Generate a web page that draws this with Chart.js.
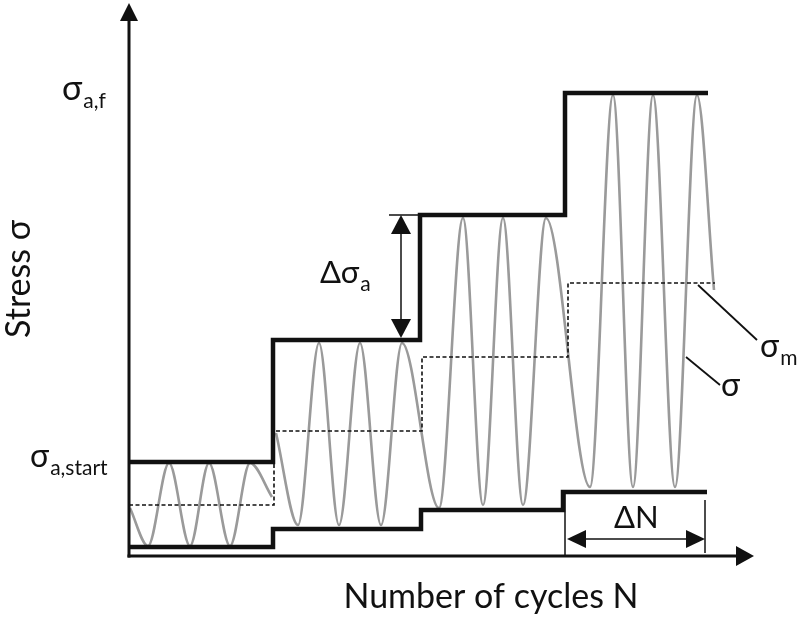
<!DOCTYPE html>
<html>
<head>
<meta charset="utf-8">
<script src="https://cdn.jsdelivr.net/npm/chart.js@4.4.0/dist/chart.umd.min.js"></script>
<style>
  html, body { margin: 0; padding: 0; background: #fff; }
  #wrap { width: 800px; height: 617px; position: relative; }
</style>
</head>
<body>
<div id="wrap"><canvas id="c"></canvas></div>
<script>
// block boundaries (cycles N) and levels (stress), schematic units
var upperX = [0, 144, 291, 436, 579];
var upperY = [94, 216, 341, 463, 463];
var lowerX = [0, 144, 292, 434, 578];
var lowerY = [9, 27, 46, 64, 64];
var meanX = [0, 145, 293, 439, 586];
var meanY = [51, 125, 199, 273, 273];

// stress signal, read at its turning points
var sig1X = [1, 19, 40, 61, 80, 101, 121, 143];
var sig1Y = [48, 10, 93, 10, 93, 10, 93, 59];
var sig2X = [147, 169, 190, 210, 231, 252, 273, 310, 334, 354, 374, 394, 417, 461, 484, 504, 524, 546, 568, 585];
var sig2Y = [123, 31, 213, 31, 213, 31, 213, 48, 338, 51, 338, 51, 338, 69, 461, 69, 461, 69, 461, 266];

var FONT = 'Lato, "Open Sans", sans-serif';

function pts(xs, ys) {
  return xs.map(function (x, i) { return { x: x, y: ys[i] }; });
}

function arrowHead(ctx, x, y, dx, dy, len, half) {
  // tip at (x,y), pointing along (dx,dy)
  var px = -dy, py = dx;
  ctx.beginPath();
  ctx.moveTo(x, y);
  ctx.lineTo(x - dx * len + px * half, y - dy * len + py * half);
  ctx.lineTo(x - dx * len - px * half, y - dy * len - py * half);
  ctx.closePath();
  ctx.fill();
}

function line(ctx, x1, y1, x2, y2, w) {
  ctx.lineWidth = w;
  ctx.beginPath();
  ctx.moveTo(x1, y1);
  ctx.lineTo(x2, y2);
  ctx.stroke();
}

function subText(ctx, main, sub, x, y, size, subSize) {
  ctx.font = size + 'px ' + FONT;
  ctx.textAlign = 'left';
  ctx.textBaseline = 'alphabetic';
  ctx.fillText(main, x, y);
  var w = ctx.measureText(main).width;
  if (sub) {
    ctx.font = subSize + 'px ' + FONT;
    ctx.fillText(sub, x + w + 1, y + subSize * 0.4);
  }
}

var sketch = {
  id: 'sketch',
  afterDraw: function (chart) {
    var ctx = chart.ctx;
    var sx = chart.scales.x, sy = chart.scales.y;
    var X = function (v) { return sx.getPixelForValue(v); };
    var Y = function (v) { return sy.getPixelForValue(v); };
    ctx.save();
    ctx.strokeStyle = '#111';
    ctx.fillStyle = '#111';
    ctx.lineCap = 'butt';

    // axes with arrows
    var x0 = X(0), y0 = Y(0);
    line(ctx, x0, y0 + 1.5, x0, Y(553) + 15, 3);
    arrowHead(ctx, x0, Y(553), 0, -1, 18, 9);
    line(ctx, x0 - 1.5, y0, X(625) - 15, y0, 3);
    arrowHead(ctx, X(625), y0, 1, 0, 18, 10);

    // delta sigma_a between block 2 and block 3 amplitudes
    var ax = X(272);
    line(ctx, X(260), Y(upperY[2]), X(upperX[2]), Y(upperY[2]), 1.5);
    line(ctx, ax, Y(upperY[2]) + 16, ax, Y(upperY[1]) - 16, 1.5);
    arrowHead(ctx, ax, Y(upperY[2]), 0, -1, 19, 10);
    arrowHead(ctx, ax, Y(upperY[1]) - 2, 0, 1, 19, 10);

    // delta N over the last block
    var nx1 = X(upperX[3]), nx2 = X(576), ny = Y(17);
    line(ctx, nx1, Y(lowerY[3]), nx1, y0, 1.5);
    line(ctx, nx2, Y(56), nx2, y0 - 3, 1.5);
    line(ctx, nx1 + 16, ny, nx2 - 16, ny, 1.5);
    arrowHead(ctx, nx1 + 2, ny, -1, 0, 19, 9);
    arrowHead(ctx, nx2, ny, 1, 0, 19, 9);

    // leader lines
    line(ctx, X(569), Y(271), X(628), Y(216), 1.8);
    line(ctx, X(557), Y(199), X(591), Y(171), 1.8);

    // labels
    subText(ctx, '\u03c3', 'a,f', 62, 100, 34, 21);
    subText(ctx, '\u03c3', 'a,start', 30, 467, 32, 21);
    subText(ctx, '\u0394\u03c3', 'a', 320, 283, 31, 21);
    subText(ctx, '\u0394N', '', 614, 528, 31, 0);
    subText(ctx, '\u03c3', 'm', 760, 357, 32, 21);
    subText(ctx, '\u03c3', '', 721, 396, 32, 0);

    ctx.font = '34px ' + FONT;
    ctx.textAlign = 'center';
    ctx.fillText('Number of cycles N', 491, 608);
    ctx.translate(30, 279);
    ctx.rotate(-Math.PI / 2);
    ctx.fillText('Stress \u03c3', 0, 0);
    ctx.restore();
  }
};

var sigStyle = {
  borderColor: '#9a9a9a',
  borderWidth: 2.6,
  pointRadius: 0,
  showLine: true,
  cubicInterpolationMode: 'monotone',
  clip: false,
  order: 3
};

new Chart(document.getElementById('c'), {
  type: 'scatter',
  data: {
    datasets: [
      Object.assign({ label: 'sigma 1', data: pts(sig1X, sig1Y) }, sigStyle),
      Object.assign({ label: 'sigma 2', data: pts(sig2X, sig2Y) }, sigStyle),
      {
        label: 'mean',
        data: pts(meanX, meanY),
        showLine: true, stepped: 'before',
        borderColor: '#111', borderWidth: 1.6, borderDash: [4, 2.5],
        pointRadius: 0, clip: false, order: 2
      },
      {
        label: 'upper',
        data: pts(upperX, upperY),
        showLine: true, stepped: 'before',
        borderColor: '#111', borderWidth: 4.5,
        pointRadius: 0, clip: false, order: 1
      },
      {
        label: 'lower',
        data: pts(lowerX, lowerY),
        showLine: true, stepped: 'before',
        borderColor: '#111', borderWidth: 4.5,
        pointRadius: 0, clip: false, order: 1
      }
    ]
  },
  options: {
    responsive: true,
    maintainAspectRatio: false,
    animation: false,
    devicePixelRatio: 1,
    layout: { padding: { left: 129, right: 46, top: 3, bottom: 61 } },
    plugins: { legend: { display: false }, tooltip: { enabled: false } },
    scales: {
      x: { type: 'linear', min: 0, max: 625, display: false },
      y: { type: 'linear', min: 0, max: 553, display: false }
    }
  },
  plugins: [sketch]
});
</script>
</body>
</html>
